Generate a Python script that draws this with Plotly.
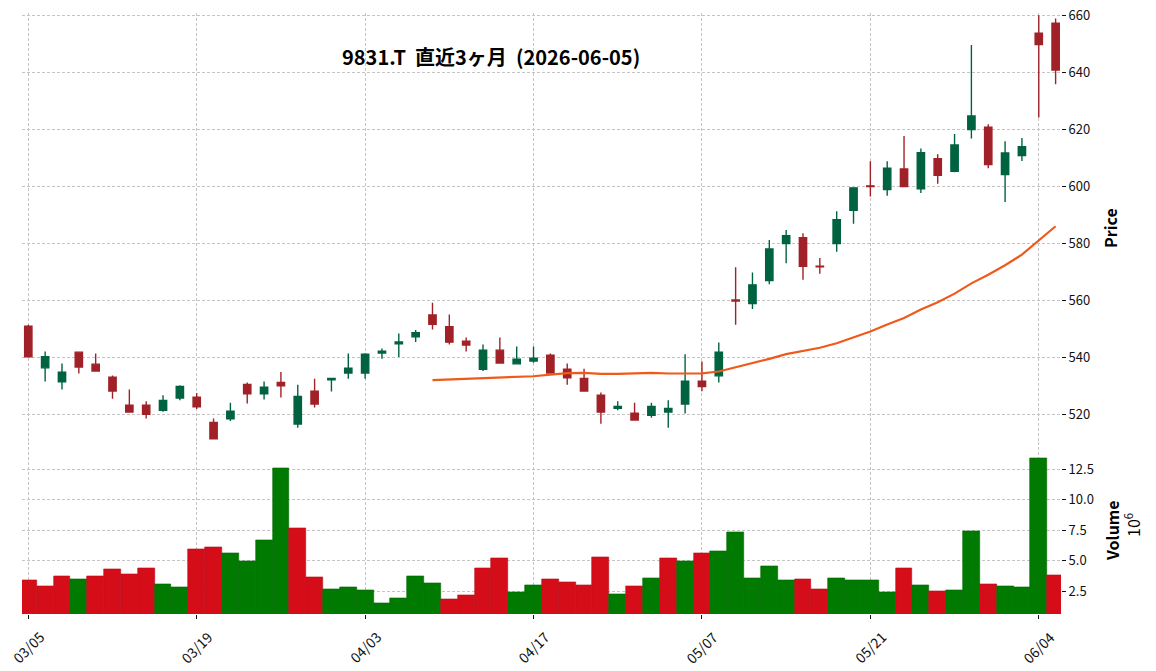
import pandas as pd
import plotly.graph_objects as go

# ---------------- data ----------------
DATES = [
    "2026-03-05", "2026-03-06", "2026-03-09", "2026-03-10", "2026-03-11", "2026-03-12", "2026-03-13",
    "2026-03-16", "2026-03-17", "2026-03-18", "2026-03-19", "2026-03-23", "2026-03-24", "2026-03-25",
    "2026-03-26", "2026-03-27", "2026-03-30", "2026-03-31", "2026-04-01", "2026-04-02", "2026-04-03",
    "2026-04-06", "2026-04-07", "2026-04-08", "2026-04-09", "2026-04-10", "2026-04-13", "2026-04-14",
    "2026-04-15", "2026-04-16", "2026-04-17", "2026-04-20", "2026-04-21", "2026-04-22", "2026-04-23",
    "2026-04-24", "2026-04-27", "2026-04-28", "2026-04-30", "2026-05-01", "2026-05-07", "2026-05-08",
    "2026-05-11", "2026-05-12", "2026-05-13", "2026-05-14", "2026-05-15", "2026-05-18", "2026-05-19",
    "2026-05-20", "2026-05-21", "2026-05-22", "2026-05-25", "2026-05-26", "2026-05-27", "2026-05-28",
    "2026-05-29", "2026-06-01", "2026-06-02", "2026-06-03", "2026-06-04", "2026-06-05",
]
OPEN = [551.0, 536.4, 531.5, 541.9, 537.7, 533.1, 523.3, 523.3, 521.5, 525.8, 526.1, 517.3, 518.5, 530.6,
        527.3, 531.3, 516.7, 528.2, 532.2, 534.6, 534.6, 541.6, 544.8, 547.3, 554.9, 550.8, 545.7, 535.9,
        542.6, 537.8, 538.8, 540.8, 535.9, 532.7, 526.8, 522.2, 520.5, 519.8, 520.9, 523.7, 531.7, 533.6,
        560.2, 558.9, 567.0, 580.0, 582.0, 572.0, 580.0, 591.6, 600.2, 598.9, 606.1, 599.2, 609.7, 605.3,
        619.9, 620.8, 604.2, 610.8, 653.7, 657.2]
HIGH = [551.5, 542.1, 537.9, 542.0, 541.4, 533.7, 528.8, 524.7, 526.8, 530.3, 527.6, 518.6, 524.2, 531.3,
        531.6, 534.9, 530.5, 532.6, 532.8, 541.4, 541.5, 543.2, 548.4, 549.7, 559.2, 555.1, 547.0, 544.6,
        547.0, 543.9, 543.9, 541.4, 537.9, 536.1, 527.8, 524.7, 524.2, 524.2, 525.0, 541.2, 538.6, 545.3,
        571.7, 569.8, 581.2, 584.7, 583.6, 574.9, 591.3, 599.6, 608.8, 608.8, 617.7, 613.3, 611.3, 618.4,
        649.6, 621.8, 615.8, 617.0, 660.0, 658.9]
LOW = [540.0, 531.6, 528.8, 534.4, 535.0, 525.6, 520.9, 518.6, 521.0, 525.0, 522.0, 511.5, 517.8, 523.9,
       525.3, 526.0, 515.4, 522.5, 528.1, 532.6, 532.6, 539.6, 540.2, 545.5, 549.8, 544.6, 542.1, 535.3,
       537.9, 537.6, 538.2, 534.6, 530.5, 528.3, 516.8, 521.5, 518.1, 518.9, 515.4, 520.4, 528.2, 531.3,
       551.5, 557.0, 565.7, 573.1, 567.3, 569.4, 577.1, 586.9, 596.5, 596.7, 600.0, 597.7, 600.9, 605.0,
       616.8, 606.4, 594.5, 608.9, 624.2, 635.8]
CLOSE = [540.3, 540.3, 534.9, 536.7, 535.3, 528.3, 520.9, 520.1, 525.0, 529.9, 522.7, 511.5, 521.2, 527.3,
         529.6, 530.1, 526.4, 523.7, 532.7, 536.3, 541.2, 542.2, 545.5, 548.7, 551.7, 545.4, 544.4, 542.6,
         538.1, 539.4, 539.8, 534.6, 532.9, 528.3, 520.9, 522.9, 518.1, 522.9, 522.2, 531.7, 529.8, 541.9,
         559.8, 565.5, 578.1, 582.7, 572.0, 571.8, 588.3, 599.5, 600.0, 606.4, 600.0, 611.8, 603.9, 614.5,
         624.7, 607.7, 611.7, 613.9, 649.7, 640.8]
VOLUME = [3440000, 2940000, 3770000, 3520000, 3770000, 4350000, 3940000, 4430000, 3110000, 2860000,
          5930000, 6090000, 5590000, 5010000, 6670000, 12610000, 7670000, 3690000, 2690000, 2860000,
          2610000, 1530000, 1950000, 3770000, 3190000, 1860000, 2200000, 4430000, 5180000, 2440000,
          3020000, 3520000, 3270000, 3020000, 5260000, 2280000, 2940000, 3600000, 5180000, 4930000,
          5590000, 5760000, 7330000, 3600000, 4520000, 3440000, 3520000, 2690000, 3600000, 3440000,
          3440000, 2440000, 4430000, 3020000, 2530000, 2610000, 7420000, 3110000, 2940000, 2860000,
          13380000, 3850000]
MA_WINDOW = 25
TITLE = "9831.T \u00a0直近3ヶ月 \u00a0(2026-06-05)"
PRICE_TICKS = [520, 540, 560, 580, 600, 620, 640, 660]
VOL_TICKS = [2.5e6, 5.0e6, 7.5e6, 10.0e6, 12.5e6]
VOL_TICK_TEXT = ["2.5", "5.0", "7.5", "10.0", "12.5"]
XTICK_EVERY = 10

# ---------------- styling ----------------
FONT = "Noto Sans CJK JP"
UP, DOWN = "#006340", "#A02128"
VUP, VDOWN = "#007a00", "#d50d18"
VUP_EDGE, VDOWN_EDGE = "#006800", "#b80b15"
MA_COLOR = "#ef5a1a"
GRID = "#c4c4c4"

W, H = 1156, 671
ML, MR, MT, MB = 22, 95, 13, 57
PW, PH = W - ML - MR, H - MT - MB

def px_x(px):
    return (px - ML) / PW

def px_y(py):
    return (H - MB - py) / PH

idx = list(range(len(DATES)))
close_s = pd.Series(CLOSE)
ma = close_s.rolling(MA_WINDOW).mean()

# volume colour: close vs previous close (first bar: close vs open)
vcolors, vedges = [], []
for i in idx:
    up = (OPEN[0] < CLOSE[0]) if i == 0 else (CLOSE[i - 1] < CLOSE[i])
    vcolors.append(VUP if up else VDOWN)
    vedges.append(VUP_EDGE if up else VDOWN_EDGE)

fig = go.Figure()
fig.add_trace(go.Candlestick(
    x=idx, open=OPEN, high=HIGH, low=LOW, close=CLOSE,
    increasing=dict(line=dict(color=UP, width=1.4), fillcolor=UP),
    decreasing=dict(line=dict(color=DOWN, width=1.4), fillcolor=DOWN),
    whiskerwidth=0, xaxis="x", yaxis="y", showlegend=False, hoverinfo="skip",
))
fig.add_trace(go.Scatter(
    x=idx, y=ma, mode="lines", line=dict(color=MA_COLOR, width=2.2),
    xaxis="x", yaxis="y", showlegend=False, hoverinfo="skip",
))
fig.add_trace(go.Bar(
    x=idx, y=VOLUME, width=1.0, marker=dict(color=vcolors, line=dict(color=vedges, width=0.6)),
    xaxis="x2", yaxis="y2", showlegend=False, hoverinfo="skip",
))

tickvals = idx[::XTICK_EVERY]
ticktext = [d[5:7] + "/" + d[8:10] for d in DATES[::XTICK_EVERY]]

xrange = [-0.374, 61.32]
vol_split = 0.2857

common_x = dict(range=xrange, showgrid=True, gridcolor=GRID, gridwidth=0.8, griddash="3px,2px",
                tickvals=tickvals, zeroline=False, showline=False, showticklabels=False,
                automargin=False)

annotations = []
for v, t in zip(tickvals, ticktext):
    annotations.append(dict(x=v, xref="x2", y=px_y(647), yref="paper", text=t, textangle=-45,
                            showarrow=False, xanchor="center", yanchor="middle",
                            font=dict(family=FONT, size=14, color="#111")))
annotations.append(dict(x=px_x(491), y=px_y(56.5), xref="paper", yref="paper", text=TITLE,
                        showarrow=False, xanchor="center", yanchor="middle",
                        font=dict(family=FONT, size=20, color="#000", weight=700)))
annotations.append(dict(x=px_x(1110), y=px_y(228), xref="paper", yref="paper", text="Price",
                        textangle=-90, showarrow=False, xanchor="center", yanchor="middle",
                        font=dict(family=FONT, size=16, color="#000", weight=700)))
annotations.append(dict(x=px_x(1112), y=px_y(531), xref="paper", yref="paper", text="Volume",
                        textangle=-90, showarrow=False, xanchor="center", yanchor="middle",
                        font=dict(family=FONT, size=16, color="#000", weight=700)))
annotations.append(dict(x=px_x(1132), y=px_y(525), xref="paper", yref="paper", text="10<sup>6</sup>",
                        textangle=-90, showarrow=False, xanchor="center", yanchor="middle",
                        font=dict(family=FONT, size=16, color="#000")))

fig.update_layout(
    width=W, height=H, margin=dict(l=ML, r=MR, t=MT, b=MB, autoexpand=False),
    paper_bgcolor="white", plot_bgcolor="white", boxgap=0.38,
    font=dict(family=FONT, size=13, color="#111"),
    xaxis=dict(**common_x, domain=[0, 1], anchor="y", rangeslider=dict(visible=False), ticks=""),
    xaxis2=dict(**common_x, domain=[0, 1], anchor="y2", matches="x",
                ticks="outside", ticklen=4, tickwidth=1.2, tickcolor="#111"),
    yaxis=dict(domain=[vol_split, 1], range=[510.3, 660.8], side="right", anchor="x",
               tickvals=PRICE_TICKS, ticks="outside", ticklen=4, tickwidth=1.2, tickcolor="#111",
               showgrid=True, gridcolor=GRID, gridwidth=0.8, griddash="3px,2px", automargin=False,
               zeroline=False, showline=False, tickfont=dict(size=13, color="#111")),
    yaxis2=dict(domain=[0, vol_split], range=[0.65e6, 14.72e6], side="right", anchor="x2",
                tickvals=VOL_TICKS, ticktext=VOL_TICK_TEXT, ticks="outside", ticklen=4,
                tickwidth=1.2, tickcolor="#111", automargin=False,
                showgrid=True, gridcolor=GRID, gridwidth=0.8, griddash="3px,2px",
                zeroline=False, showline=False, tickfont=dict(size=13, color="#111")),
    annotations=annotations,
    bargap=0,
)

fig.write_html("out.html")
